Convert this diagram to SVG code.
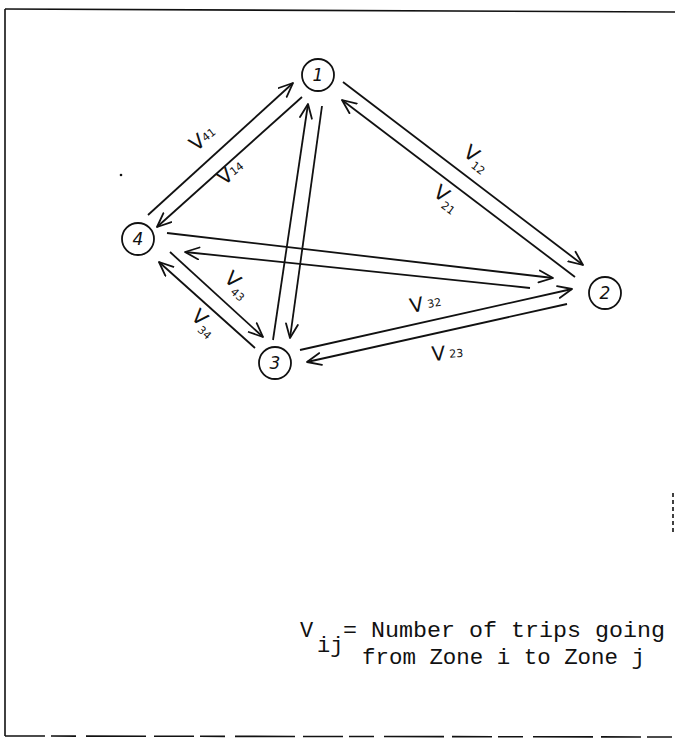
<svg xmlns="http://www.w3.org/2000/svg" width="675" height="740" viewBox="0 0 675 740">
  <style>
    .frame { stroke: #111; stroke-width: 1.6; fill: none; }
    .node circle { fill: #fff; stroke: #111; stroke-width: 1.8; }
    .node text { font-family: "DejaVu Sans", sans-serif; font-style: italic; font-size: 17px; fill: #111; text-anchor: middle; }
    .edges line { stroke: #111; stroke-width: 1.8; marker-end: url(#arr); }
    .lbl { font-family: "DejaVu Sans", sans-serif; fill: #111; }
    .lbl .v { font-size: 20px; }
    .lbl .s { font-size: 11px; }
    .note { font-family: "Liberation Mono", monospace; fill: #111; font-size: 22px; }
  </style>
  <defs>
    <marker id="arr" markerUnits="userSpaceOnUse" markerWidth="20" markerHeight="16" refX="15" refY="7" orient="auto">
      <path d="M1,1 L15,7 L1,13" fill="none" stroke="#111" stroke-width="1.8" stroke-linecap="round" stroke-linejoin="round"/>
    </marker>
  </defs>
  <rect width="675" height="740" fill="#fff"/>
  <g id="frame">
    <path class="frame" d="M5,9 L675,12"/>
    <path class="frame" d="M5,9 L5,736"/>
    <path class="frame" d="M5,736 L675,737" stroke-dasharray="40,6,25,10,60,8"/>
    <path class="frame" d="M673,493 L673,532" stroke-dasharray="4,3"/>
    <circle cx="121" cy="175" r="1.3" fill="#111"/>
  </g>
  <g class="edges" id="connectors">
    <line id="e41" x1="148" y1="215" x2="293" y2="83"/>
    <line id="e14" x1="302" y1="97" x2="157" y2="227"/>
    <line id="e12" x1="343" y1="82" x2="583" y2="265"/>
    <line id="e21" x1="575" y1="277" x2="342" y2="100"/>
    <line id="e42" x1="167" y1="233" x2="553" y2="278"/>
    <line id="e24" x1="530" y1="288" x2="185" y2="252"/>
    <line id="e31" x1="273" y1="340" x2="308" y2="104"/>
    <line id="e13" x1="322" y1="106" x2="290" y2="338"/>
    <line id="e43" x1="170" y1="252" x2="263" y2="337"/>
    <line id="e34" x1="255" y1="348" x2="159" y2="262"/>
    <line id="e32" x1="300" y1="350" x2="572" y2="289"/>
    <line id="e23" x1="567" y1="304" x2="307" y2="362"/>
  </g>
  <g id="labels">
    <text class="lbl" transform="translate(196,152) rotate(-38)"><tspan class="v">V</tspan><tspan class="s" dy="-2">41</tspan></text>
    <text class="lbl" transform="translate(224,186) rotate(-38)"><tspan class="v">V</tspan><tspan class="s" dy="-2">14</tspan></text>
    <text class="lbl" transform="translate(462,155) rotate(36)"><tspan class="v">V</tspan><tspan class="s" dy="5">12</tspan></text>
    <text class="lbl" transform="translate(432,195) rotate(36)"><tspan class="v">V</tspan><tspan class="s" dy="5">21</tspan></text>
    <text class="lbl" transform="translate(223,280) rotate(42)"><tspan class="v">V</tspan><tspan class="s" dy="5">43</tspan></text>
    <text class="lbl" transform="translate(190,318) rotate(42)"><tspan class="v">V</tspan><tspan class="s" dy="5">34</tspan></text>
    <text class="lbl" transform="translate(411,313) rotate(-10)"><tspan class="v">V</tspan><tspan class="s" dx="4" dy="-2">32</tspan></text>
    <text class="lbl" transform="translate(432,361) rotate(-4)"><tspan class="v">V</tspan><tspan class="s" dx="4" dy="-2">23</tspan></text>
  </g>
  <g id="n1" class="node"><circle cx="318" cy="75" r="16"/><text x="318" y="81">1</text></g>
  <g id="n2" class="node"><circle cx="605" cy="293" r="16"/><text x="605" y="299">2</text></g>
  <g id="n3" class="node"><circle cx="275" cy="363" r="16"/><text x="275" y="369">3</text></g>
  <g id="n4" class="node"><circle cx="138" cy="239" r="16"/><text x="138" y="245">4</text></g>
  <g id="legend">
    <text class="note" x="300" y="637">V</text>
    <text class="note" x="317" y="652" font-size="16">ij</text>
    <text class="note" x="343" y="637" textLength="322" lengthAdjust="spacingAndGlyphs">= Number of trips going</text>
    <text class="note" x="362" y="664" textLength="283" lengthAdjust="spacingAndGlyphs">from Zone i to Zone j</text>
  </g>
</svg>
